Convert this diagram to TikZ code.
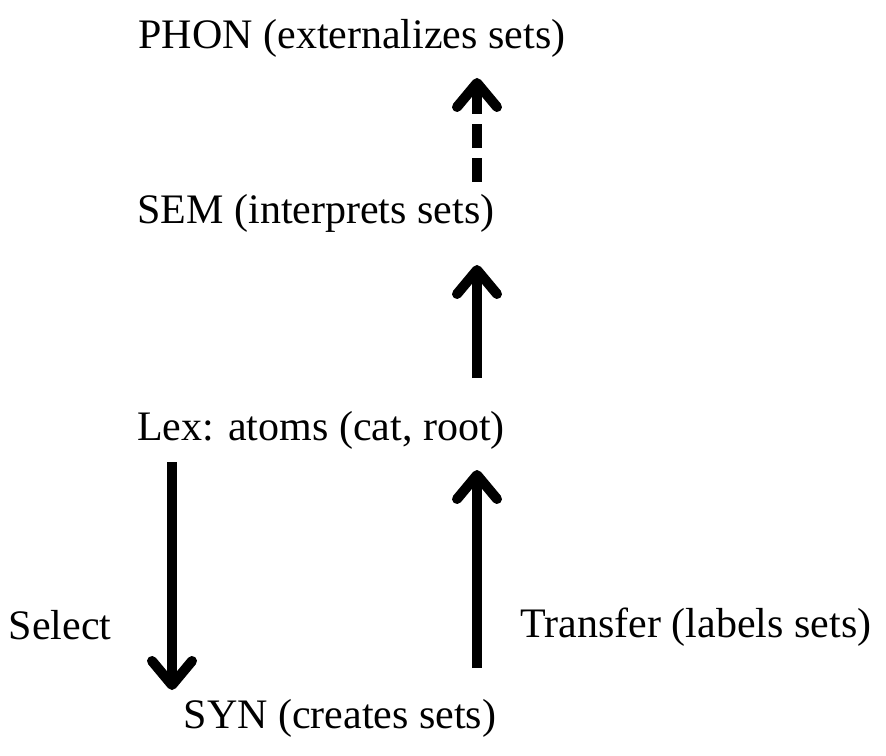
\documentclass[tikz,border=0pt]{standalone}
\usepackage{fontspec}
\setmainfont{Liberation Serif}
\usetikzlibrary{arrows.meta}
\tikzset{
  lbl/.style={inner sep=0pt, font=\fontsize{21}{25}\selectfont},
  bigarrow/.style={line width=5pt, -{Straight Barb[length=12pt,width=20pt,round]}},
}
\begin{document}
\begin{tikzpicture}[x=0.5pt,y=0.5pt]
  \useasboundingbox (0,0) rectangle (886,755);
  % levels
  \node[lbl] (phon) at (352,717) {PHON (externalizes sets)};
  \node[lbl] (sem) at (316,542) {SEM (interprets sets)};
  \node[lbl] (lex) at (321,325) {Lex: atoms (cat, root)};
  \node[lbl] (syn) at (340,37) {SYN (creates sets)};
  \node[lbl] (select) at (60,130) {Select};
  \node[lbl] (transfer) at (696,128) {Transfer (labels sets)};
  % arrow ends
  \coordinate (semtop) at (477,573);
  \coordinate (phonbot) at (477,677);
  \coordinate (lextop) at (477,377);
  \coordinate (sembot) at (477,490);
  \coordinate (lexbot) at (172,293);
  \coordinate (syntop) at (172,65);
  \coordinate (synbot) at (477,87);
  \coordinate (lexin) at (477,285);
  \begin{scope}[bigarrow]
    \draw[dash pattern=on 12pt off 5pt] (semtop) -- (phonbot);
    \draw (lextop) -- (sembot);
    \draw (lexbot) -- (syntop);
    \draw (synbot) -- (lexin);
  \end{scope}
\end{tikzpicture}
\end{document}
